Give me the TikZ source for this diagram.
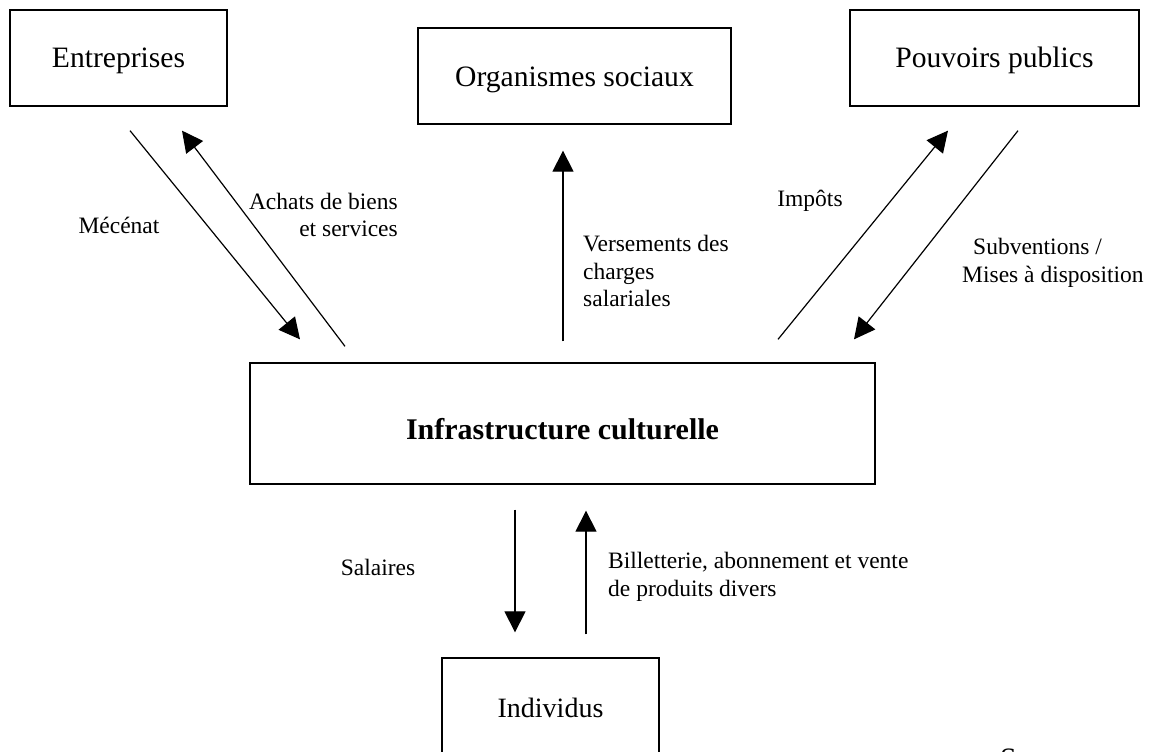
\documentclass[tikz,border=0pt]{standalone}
\usepackage{fontspec}
\setmainfont{Liberation Serif}
\usetikzlibrary{arrows.meta,calc,positioning}
\definecolor{Ink}{HTML}{000000}
\tikzset{
  actor/.style={
    draw=Ink, line width=1.3pt, inner sep=0pt,
    minimum width=217pt, minimum height=96pt,
    text height=20pt, text depth=0pt,
    font=\fontsize{29.6}{34}\selectfont
  },
  flowlabel/.style={inner sep=0pt, font=\fontsize{23.5}{27.5}\selectfont},
  flow/.style={-{Triangle[length=21pt,width=21pt]}, line width=1.2pt, draw=Ink}
}
\begin{document}
\begin{tikzpicture}[x=1pt,y=-1pt]
    \useasboundingbox[fill=white] (0,0) rectangle (1160,752);
    % actors
    \node[actor] (ent) at (118.5,58) {Entreprises};
    \node[actor,minimum width=313pt] (org) at (574.5,76) {Organismes sociaux};
    \node[actor,minimum width=289pt] (pouv) at (994.5,58) {Pouvoirs publics};
    \node[actor,minimum width=625pt,minimum height=121pt,text height=31pt,
          font=\fontsize{30}{34}\selectfont\bfseries] (infra) at (562.5,423.5) {Infrastructure culturelle};
    \node[actor,text height=22pt,font=\fontsize{28}{32}\selectfont] (ind) at (550.5,706) {Individus};
    % flows
    \draw[flow] ([shift={(11.5,24)}]ent.south) -- ([shift={(-262.5,-23)}]infra.north);
    \draw[flow] ([shift={(-217.5,-16)}]infra.north) -- ([shift={(63.5,24)}]ent.south);
    \draw[flow] ([shift={(0.5,-21)}]infra.north) -- ([shift={(-11.5,26)}]org.south);
    \draw[flow] ([shift={(215.5,-23)}]infra.north) -- ([shift={(-46.5,24)}]pouv.south);
    \draw[flow] ([shift={(23.5,24)}]pouv.south) -- ([shift={(291.5,-23)}]infra.north);
    \draw[flow] ([shift={(-47.5,25)}]infra.south) -- ([shift={(-35.5,-25)}]ind.north);
    \draw[flow] ([shift={(35.5,-23)}]ind.north) -- ([shift={(23.5,26)}]infra.south);
    % labels
    \node[flowlabel] (lmec) at (119,225) {Mécénat};
    \node[flowlabel,align=right,anchor=east] (lach) at (398,215) {Achats de biens\\et services};
    \node[flowlabel,align=left,anchor=west] (lver) at (583,271) {Versements des\\charges\\salariales};
    \node[flowlabel] (limp) at (810,201) {Impôts};
    \node[flowlabel,align=left,anchor=west] (lsub) at (962,263) {\hspace*{11pt}Subventions /\\Mises à disposition};
    \node[flowlabel] (lsal) at (378,567) {Salaires};
    \node[flowlabel,align=left,anchor=west] (lbil) at (608,577) {Billetterie, abonnement et vente\\de produits divers};
    \node[anchor=base west,inner sep=0pt,font=\fontsize{29.6}{34}\selectfont] (src) at (1000,768) {S};
\end{tikzpicture}
\end{document}
